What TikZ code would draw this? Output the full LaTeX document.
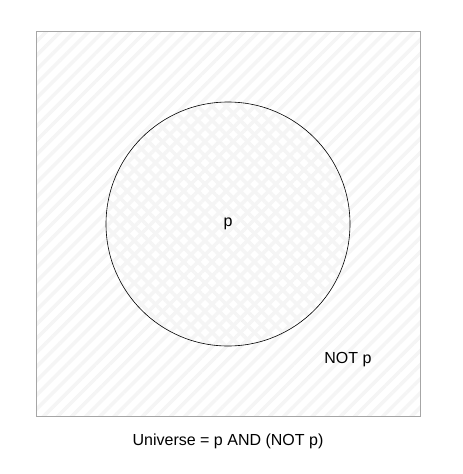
\documentclass[tikz,border=0pt]{standalone}
\usepackage{fontspec}
\setmainfont{Liberation Sans}
\usetikzlibrary{patterns.meta}

\begin{document}
\begin{tikzpicture}[x=1pt, y=-1pt,
  universe/.style={draw=black!35, line width=1pt, preaction={fill=white},
    pattern={Lines[angle=45, distance=10pt, line width=3.5pt]}, pattern color=black!4},
  setp/.style={circle, draw=black, line width=0.6pt, minimum size=244pt, inner sep=0pt,
    preaction={fill=white},
    preaction={pattern={Lines[angle=45, distance=10pt, line width=3.5pt]}, pattern color=black!4},
    pattern={Lines[angle=-45, distance=10pt, line width=3.5pt]}, pattern color=black!4},
  lbl/.style={font=\fontsize{16}{19}\selectfont, text=black}
]
\useasboundingbox (0,0) rectangle (463,474);

% universe box
\draw[universe] (36,31) rectangle (420,416);

% the set p
\node[setp] (p) at (228,224) {};
\node[lbl] (plabel) at (p.center) {p};

% labels
\node[lbl] (notp) at (348,360) {NOT p};
\node[lbl] (caption) at (228,441) {Universe = p AND (NOT p)};
\end{tikzpicture}
\end{document}
